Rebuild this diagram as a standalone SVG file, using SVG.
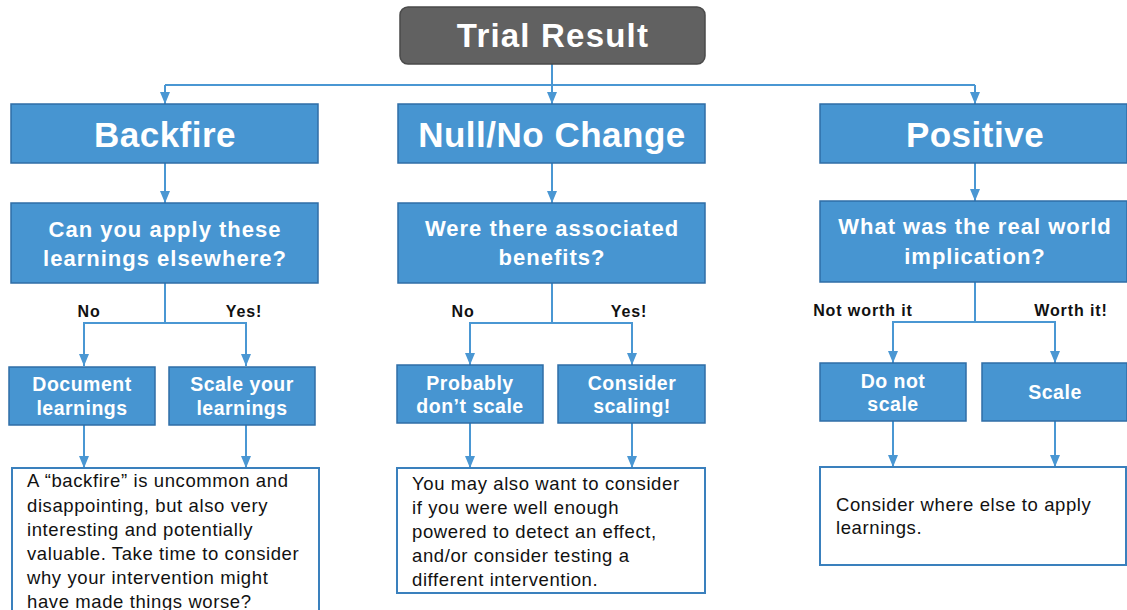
<svg xmlns="http://www.w3.org/2000/svg" width="1127" height="610" viewBox="0 0 1127 610">
<defs>
<marker id="arr" markerUnits="userSpaceOnUse" markerWidth="12" markerHeight="10" refX="12" refY="5" orient="auto">
<path d="M0,0 L12,5 L0,10 z" fill="#4a97d3"/>
</marker>
<style>
.blue{fill:#4795d1;stroke:#2f6ea6;stroke-width:1.5}
.note{fill:#fff;stroke:#3a80bd;stroke-width:2}
.c{fill:none;stroke:#4a97d3;stroke-width:2}
.t{font-family:"Liberation Sans",Arial,sans-serif;font-weight:bold;fill:#fff;text-anchor:middle}
.h1{font-size:35px;letter-spacing:0.5px}
.h2{font-size:22px;letter-spacing:1px}
.h3{font-size:19.5px;letter-spacing:0.5px}
.lab{font-family:"Liberation Sans",Arial,sans-serif;font-weight:bold;font-size:16px;letter-spacing:0.9px;fill:#111;text-anchor:middle}
.body{font-family:"Liberation Sans",Arial,sans-serif;font-size:18.5px;letter-spacing:0.6px;fill:#111}
</style>
</defs>
<rect width="1127" height="610" fill="#fff"/>

<g id="connectors">
<path class="c" d="M552,64 V85"/>
<path class="c" d="M165,85 H975" stroke-width="1.5"/>
<path class="c" d="M165,85 V104" marker-end="url(#arr)"/>
<path class="c" d="M552,85 V104" marker-end="url(#arr)"/>
<path class="c" d="M975,85 V104" marker-end="url(#arr)"/>
<path class="c" d="M165,163 V203" marker-end="url(#arr)"/>
<path class="c" d="M552,163 V203" marker-end="url(#arr)"/>
<path class="c" d="M975,163 V201" marker-end="url(#arr)"/>
<path class="c" d="M165,283 V323 H84 V366" marker-end="url(#arr)"/>
<path class="c" d="M165,323 H246 V366" marker-end="url(#arr)"/>
<path class="c" d="M552,283 V323 H470 V365" marker-end="url(#arr)"/>
<path class="c" d="M552,323 H632 V365" marker-end="url(#arr)"/>
<path class="c" d="M975,282 V322 H893 V363" marker-end="url(#arr)"/>
<path class="c" d="M975,322 H1055 V363" marker-end="url(#arr)"/>
<path class="c" d="M84,425 V468" marker-end="url(#arr)"/>
<path class="c" d="M246,425 V468" marker-end="url(#arr)"/>
<path class="c" d="M470,423 V468" marker-end="url(#arr)"/>
<path class="c" d="M632,423 V468" marker-end="url(#arr)"/>
<path class="c" d="M893,421 V467" marker-end="url(#arr)"/>
<path class="c" d="M1055,421 V467" marker-end="url(#arr)"/>
</g>

<g id="labels">
<text class="lab" x="89" y="317">No</text>
<text class="lab" x="244" y="317">Yes!</text>
<text class="lab" x="463" y="317">No</text>
<text class="lab" x="629" y="317">Yes!</text>
<text class="lab" x="863" y="316">Not worth it</text>
<text class="lab" x="1071" y="316">Worth it!</text>
</g>

<g id="trial-result">
<rect x="400" y="7" width="305" height="57" rx="8" fill="#616161" stroke="#4a4a4a" stroke-width="1.5"/>
<text class="t" x="553" y="47" style="font-size:33px;letter-spacing:1.2px">Trial Result</text>
</g>

<g id="backfire">
<rect class="blue" x="11" y="104" width="307" height="59"/>
<text class="t h1" x="165" y="147">Backfire</text>
</g>
<g id="null">
<rect class="blue" x="398" y="104" width="307" height="59"/>
<text class="t h1" x="552" y="147">Null/No Change</text>
</g>
<g id="positive">
<rect class="blue" x="820" y="104" width="307" height="59"/>
<text class="t h1" x="975" y="147">Positive</text>
</g>

<g id="q-backfire">
<rect class="blue" x="11" y="203" width="307" height="80"/>
<text class="t h2" x="165" y="237">Can you apply these</text>
<text class="t h2" x="165" y="266">learnings elsewhere?</text>
</g>
<g id="q-null">
<rect class="blue" x="398" y="203" width="307" height="80"/>
<text class="t h2" x="552" y="236">Were there associated</text>
<text class="t h2" x="552" y="265">benefits?</text>
</g>
<g id="q-positive">
<rect class="blue" x="820" y="201" width="307" height="81"/>
<text class="t h2" x="975" y="234">What was the real world</text>
<text class="t h2" x="975" y="264">implication?</text>
</g>

<g id="document">
<rect class="blue" x="9" y="367" width="146" height="58"/>
<text class="t h3" x="82" y="391">Document</text>
<text class="t h3" x="82" y="415">learnings</text>
</g>
<g id="scale-your">
<rect class="blue" x="169" y="367" width="146" height="58"/>
<text class="t h3" x="242" y="391">Scale your</text>
<text class="t h3" x="242" y="415">learnings</text>
</g>
<g id="probably">
<rect class="blue" x="397" y="365" width="146" height="58"/>
<text class="t h3" x="470" y="390">Probably</text>
<text class="t h3" x="470" y="413">don’t scale</text>
</g>
<g id="consider-scaling">
<rect class="blue" x="558" y="365" width="147" height="58"/>
<text class="t h3" x="632" y="390">Consider</text>
<text class="t h3" x="632" y="413">scaling!</text>
</g>
<g id="do-not-scale">
<rect class="blue" x="820" y="363" width="146" height="58"/>
<text class="t h3" x="893" y="388">Do not</text>
<text class="t h3" x="893" y="411">scale</text>
</g>
<g id="scale">
<rect class="blue" x="982" y="363" width="145" height="58"/>
<text class="t h3" x="1055" y="399">Scale</text>
</g>

<g id="note-backfire">
<rect class="note" x="12" y="468" width="307" height="150"/>
<text class="body" x="27" y="487">A “backfire” is uncommon and</text>
<text class="body" x="27" y="511.5">disappointing, but also very</text>
<text class="body" x="27" y="535.5">interesting and potentially</text>
<text class="body" x="27" y="560">valuable. Take time to consider</text>
<text class="body" x="27" y="584">why your intervention might</text>
<text class="body" x="27" y="608">have made things worse?</text>
</g>
<g id="note-null">
<rect class="note" x="397" y="468" width="308" height="125"/>
<text class="body" x="412" y="490">You may also want to consider</text>
<text class="body" x="412" y="514">if you were well enough</text>
<text class="body" x="412" y="538">powered to detect an effect,</text>
<text class="body" x="412" y="562">and/or consider testing a</text>
<text class="body" x="412" y="586">different intervention.</text>
</g>
<g id="note-positive">
<rect class="note" x="820" y="467" width="306" height="98"/>
<text class="body" x="836" y="511">Consider where else to apply</text>
<text class="body" x="836" y="534">learnings.</text>
</g>
</svg>
